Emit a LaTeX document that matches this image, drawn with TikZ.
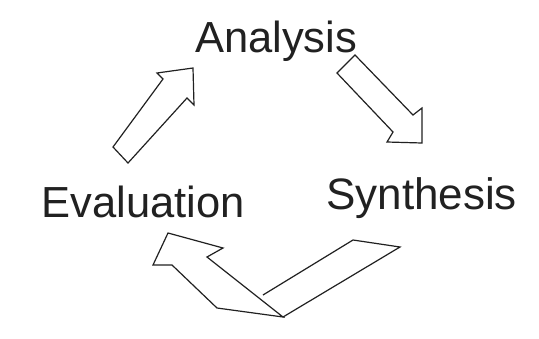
\documentclass[tikz,border=0pt]{standalone}
\usepackage{fontspec}
\setmainfont{Liberation Sans}
\usetikzlibrary{positioning}
\definecolor{InkGray}{rgb}{0.13, 0.13, 0.13}

\begin{document}
\begin{tikzpicture}[x=1pt, y=-1pt,
    word/.style={font=\fontsize{43.5}{50}\selectfont, text=InkGray, inner sep=0pt, anchor=base west},
    blockarrow/.style={draw=InkGray, line width=1.2pt, fill=white, line join=miter}]

% marco
\useasboundingbox[fill=white] (0,0) rectangle (539,338);

% --- etapas ---
\node[word] (analysis) at (195,52) {Analysis};
\node[word] (evaluation) at (41.5,217) {Evaluation};
\node[word, font=\fontsize{44}{50}\selectfont] (synthesis) at (326,209) {Synthesis};

% --- flecha evaluation -> analysis ---
\draw[blockarrow] (113,147) -- (163,79) -- (157,73) -- (193,68) -- (194,105)
    -- (187,98) -- (128,163) -- cycle;

% --- flecha analysis -> synthesis ---
\draw[blockarrow] (355,55) -- (413,115) -- (422,108) -- (422,143) -- (387,142)
    -- (393,132) -- (337,73) -- cycle;

% --- flecha synthesis -> evaluation (doblada) ---
\draw[blockarrow] (283,317) -- (217,308) -- (172,265) -- (153,265) -- (168,233)
    -- (223,248) -- (207,257) -- cycle;
\draw[blockarrow, fill=none] (283,317) -- (400,247) -- (353,240) -- (263,295);

\end{tikzpicture}
\end{document}
